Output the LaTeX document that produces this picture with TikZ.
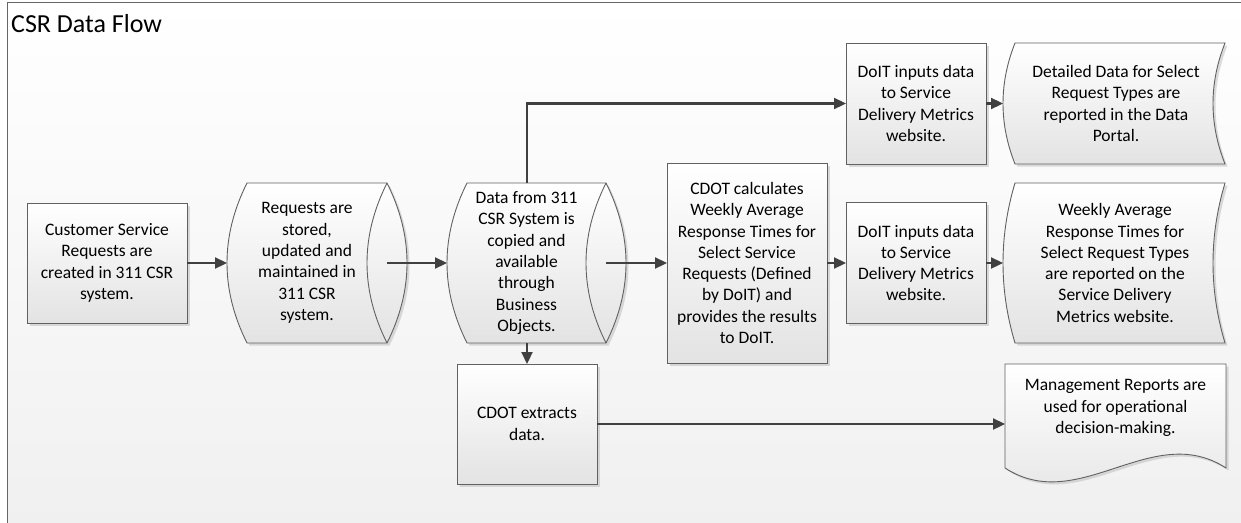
\documentclass[tikz,border=0pt]{standalone}
\usepackage{fontspec}
\setmainfont{Carlito}
\usetikzlibrary{arrows.meta,calc,shadows}
\newcommand\bodyfont{\fontsize{17.5}{21.3}\selectfont}
\tikzset{
  shapeline/.style={draw=black!62, line width=0.9pt},
  shadefill/.style={top color=white, bottom color=black!11},
  shad/.style={drop shadow={shadow xshift=2.5pt, shadow yshift=-2.5pt, fill=black!30, opacity=0.45}},
  procbox/.style={shapeline, shadefill, shad, rectangle, outer sep=0pt, inner sep=0pt, align=center, font=\bodyfont},
  bodynode/.style={rectangle, draw=none, outer sep=0pt, inner sep=0pt},
  txtnode/.style={rectangle, draw=none, inner sep=0pt, align=center, font=\bodyfont},
  arr/.style={draw=black!75, line width=2.2pt, -{Triangle[length=12pt,width=11pt]}},
}
% direct-access storage (drum) drawn round a body node
\newcommand\drumshape[1]{%
  \path[shapeline,shadefill,shad] (#1.north west) -- (#1.north east)
    .. controls ($(#1.north east)!0.3333!(#1.south east)+(26.67,0)$) and ($(#1.north east)!0.6667!(#1.south east)+(26.67,0)$) .. (#1.south east)
    -- (#1.south west)
    .. controls ($(#1.north west)!0.6667!(#1.south west)+(-26.67,0)$) and ($(#1.north west)!0.3333!(#1.south west)+(-26.67,0)$) .. cycle;
  \draw[shapeline] (#1.north east)
    .. controls ($(#1.north east)!0.3333!(#1.south east)+(-26.67,0)$) and ($(#1.north east)!0.6667!(#1.south east)+(-26.67,0)$) .. (#1.south east);}
% stored data shape
\newcommand\storedshape[1]{%
  \path[shapeline,shadefill,shad] (#1.north west) -- (#1.north east)
    .. controls ($(#1.north east)!0.3333!(#1.south east)+(-16,0)$) and ($(#1.north east)!0.6667!(#1.south east)+(-16,0)$) .. (#1.south east)
    -- (#1.south west)
    .. controls ($(#1.north west)!0.6667!(#1.south west)+(-16,0)$) and ($(#1.north west)!0.3333!(#1.south west)+(-16,0)$) .. cycle;}
\begin{document}
\begin{tikzpicture}[x=1pt,y=-1pt]
\useasboundingbox (0,0) rectangle (1241,522);
\clip (0,0) rectangle (1241,522);
\fill[white] (0,0) rectangle (1241,522);
\draw[draw=black!60, line width=0.8pt, top color=white, bottom color=black!6] (7,2) rectangle (1260,540);
\node[anchor=base west, font=\fontsize{26}{30}\selectfont, inner sep=0pt] (title) at (11,32) {CSR Data Flow};

% body nodes of the curved shapes
\node[bodynode, minimum width=140pt, minimum height=160pt] (b2) at (317,263) {};
\node[bodynode, minimum width=139pt, minimum height=160pt] (b3) at (536.5,263) {};
\node[bodynode, minimum width=210pt, minimum height=160pt] (b6) at (1120,263) {};
\node[bodynode, minimum width=210pt, minimum height=121pt] (b8) at (1120,103.5) {};
\node[bodynode, minimum width=221pt, minimum height=104pt] (b9) at (1115.5,416) {};

\drumshape{b2}
\drumshape{b3}
\storedshape{b6}
\storedshape{b8}
\path[shapeline,shadefill,shad] (b9.north west) -- (b9.north east) -- (b9.south east)
  .. controls ($(b9.south east)+(-74,-48)$) and ($(b9.south west)+(74,48)$) .. (b9.south west) -- cycle;

% texts of the curved shapes
\node[txtnode] (b2t) at ($(b2)+(-10,0)$) {Requests are\\stored,\\updated and\\maintained in\\311 CSR\\system.};
\node[txtnode] (b3t) at ($(b3)+(-10,0)$) {Data from 311\\CSR System is\\copied and\\available\\through\\Business\\Objects.};
\node[txtnode] (b6t) at ($(b6)+(-5,0)$) {Weekly Average\\Response Times for\\Select Request Types\\are reported on the\\Service Delivery\\Metrics website.};
\node[txtnode] (b8t) at ($(b8)+(-4,0)$) {Detailed Data for Select\\Request Types are\\reported in the Data\\Portal.};
\node[txtnode] (b9t) at ($(b9)+(0,-8)$) {Management Reports are\\used for operational\\decision-making.};

% process boxes
\node[procbox, minimum width=160pt, minimum height=120pt] (b1) at (107,263) {Customer Service\\Requests are\\created in 311 CSR\\system.};
\node[procbox, minimum width=160pt, minimum height=200pt] (b4) at (747,263) {CDOT calculates\\Weekly Average\\Response Times for\\Select Service\\Requests (Defined\\by DoIT) and\\provides the results\\to DoIT.};
\node[procbox, minimum width=140pt, minimum height=121pt] (b5) at (916,263) {DoIT inputs data\\to Service\\Delivery Metrics\\website.};
\node[procbox, minimum width=140pt, minimum height=121pt] (b7) at (916,103.5) {DoIT inputs data\\to Service\\Delivery Metrics\\website.};
\node[procbox, minimum width=140pt, minimum height=120pt] (b10) at (527,424) {CDOT extracts\\data.};

% connectors
\draw[arr] (b1.east) -- ([xshift=-20pt]b2.west);
\draw[arr] (b2.east) -- ([xshift=-20pt]b3.west);
\draw[arr] (b3.east) -- (b4.west);
\draw[arr] (b4.east) -- (b5.west);
\draw[arr] (b5.east) -- ([xshift=-12pt]b6.west);
\draw[arr] (b10.north |- b3.north) |- (b7.west);
\draw[arr] (b7.east) -- ([xshift=-12pt]b8.west);
\draw[arr] (b10.north |- b3.south) -- (b10.north);
\draw[arr] (b10.east) -- (b10.east -| b9.west);
\end{tikzpicture}
\end{document}
